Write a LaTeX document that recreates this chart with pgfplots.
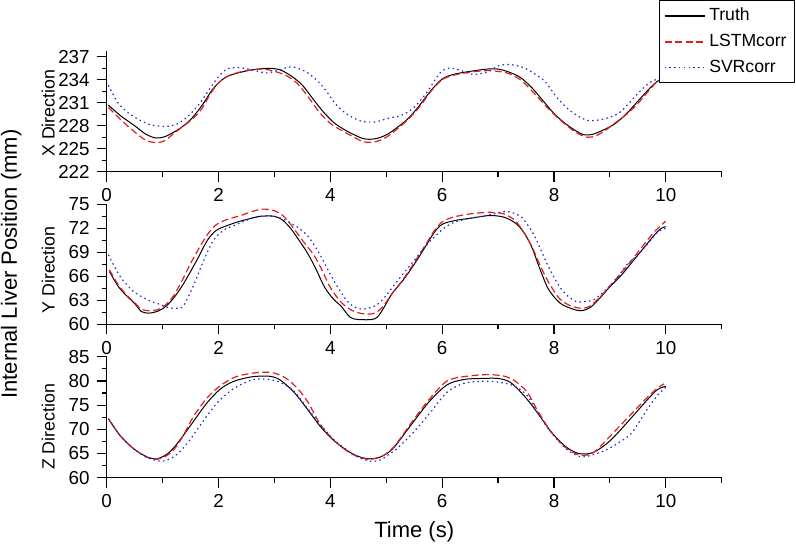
\documentclass[border=0pt]{standalone}
\usepackage{pgfplots}
\pgfplotsset{compat=1.18}
\usepackage{fontspec}
\setmainfont{Liberation Sans}
\definecolor{tru}{RGB}{0,0,0}
\definecolor{lstm}{RGB}{225,30,30}
\definecolor{svr}{RGB}{40,40,215}
\pgfplotsset{
  panel/.style={
    scale only axis, width=307.5pt,
    xmin=0, xmax=11,
    axis x line=bottom, axis y line=left,
    axis line style={-, line width=0.6pt},
    tick align=outside,
    major tick length=5pt, minor tick length=2.5pt,
    every tick/.style={black, line width=0.6pt},
    xtick={0,2,4,6,8,10},
    minor xtick={1,3,5,7,9,11},
    /pgf/number format/assume math mode=true,
    ticklabel style={font=\fontsize{9.4}{10}\selectfont},
    label style={font=\fontsize{8.9}{10}\selectfont},
    every axis plot/.append style={smooth, tension=0.5},
  },
  truth/.style={tru, line width=0.5pt},
  lstmst/.style={lstm, line width=0.6pt, dash pattern=on 3.5pt off 1.75pt},
  svrst/.style={svr, line width=0.6pt, dash pattern=on 0.75pt off 1.65pt},
}
\begin{document}
\begin{tikzpicture}
\path[use as bounding box] (0,0) rectangle (398pt,-272.5pt);
% ---------------- X direction
\begin{axis}[panel, at={(53.35pt,-85.85pt)}, anchor=south west, height=60.5pt,
  ymin=222, ymax=237.8, ytick={222,225,...,237}, minor ytick={223.5,226.5,...,236},
  ylabel={X Direction},
  ylabel style={at={(axis description cs:-0.095,0.483)}, anchor=center},
  legend style={at={(axis description cs:1.1192,1.4149)}, anchor=north east,
    draw=black, line width=0.5pt, font=\fontsize{8.8}{10}\selectfont,
    inner xsep=2pt, inner ysep=1.5pt, row sep=1.2pt},
  legend cell align=left,
  legend image code/.code={\draw[#1, smooth=false, line width=0.75pt] (0pt,0pt) -- (20pt,0pt);},
]
\addplot[truth] coordinates {(0.03,230.7) (0.25,229.3) (0.5,228.0) (0.7,226.9) (0.88,226.4) (1.05,226.6) (1.3,227.6) (1.5,228.8) (1.7,230.6) (1.9,232.8) (2.1,234.2) (2.3,234.8) (2.6,235.3) (2.9,235.5) (3.1,235.3) (3.3,234.5) (3.5,233.3) (3.7,231.4) (3.9,229.6) (4.1,228.2) (4.35,227.1) (4.6,226.3) (4.8,226.3) (5.0,226.8) (5.2,227.8) (5.4,229.0) (5.6,230.7) (5.8,232.6) (6.0,234.1) (6.2,234.7) (6.5,235.1) (6.8,235.4) (7.0,235.4) (7.2,235.0) (7.4,234.3) (7.6,233.0) (7.8,231.3) (8.0,229.6) (8.2,228.3) (8.4,227.3) (8.55,226.8) (8.7,226.9) (8.9,227.5) (9.1,228.3) (9.3,229.6) (9.5,231.2) (9.7,232.8) (9.85,233.8) (10,234.3)};
\addlegendentry{Truth}
\addplot[lstmst] coordinates {(0.03,230.4) (0.25,228.8) (0.5,227.2) (0.7,226.1) (0.9,225.8) (1.05,226.1) (1.2,227.0) (1.4,228.1) (1.55,229.0) (1.7,230.2) (1.85,232.1) (2.0,233.6) (2.2,234.6) (2.5,235.2) (2.8,235.4) (3.0,235.1) (3.2,234.6) (3.4,233.6) (3.6,231.8) (3.8,229.8) (4.0,228.3) (4.2,227.4) (4.4,226.6) (4.6,225.9) (4.8,225.9) (5.0,226.5) (5.2,227.6) (5.4,228.9) (5.6,230.5) (5.8,232.5) (6.0,234.0) (6.2,234.6) (6.5,235.0) (6.8,235.2) (7.0,235.1) (7.2,234.8) (7.4,234.0) (7.6,232.6) (7.8,231.0) (8.0,229.5) (8.2,228.2) (8.4,227.1) (8.6,226.5) (8.75,226.7) (8.9,227.3) (9.1,228.4) (9.3,229.5) (9.5,230.9) (9.7,232.6) (9.85,233.8) (10,234.4)};
\addlegendentry{LSTMcorr}
\addplot[svrst] coordinates {(0.03,233.3) (0.2,231.0) (0.4,229.6) (0.6,228.7) (0.8,228.1) (1.05,227.9) (1.25,228.2) (1.45,229.2) (1.65,230.8) (1.85,232.9) (2.0,234.4) (2.15,235.4) (2.35,235.6) (2.6,235.3) (2.85,234.9) (3.05,235.2) (3.3,235.7) (3.55,235.1) (3.75,234.0) (3.9,232.8) (4.1,230.8) (4.3,229.5) (4.55,228.6) (4.8,228.5) (5.05,229.0) (5.25,229.3) (5.45,230.1) (5.6,231.2) (5.75,232.6) (5.95,234.8) (6.1,235.5) (6.3,235.3) (6.55,234.7) (6.8,235.0) (7.0,235.8) (7.2,236.0) (7.45,235.6) (7.65,234.8) (7.85,233.7) (8.05,231.7) (8.3,229.9) (8.6,228.7) (8.9,228.9) (9.15,229.6) (9.35,231.0) (9.55,232.6) (9.75,233.8) (10,234.4)};
\addlegendentry{SVRcorr}
\end{axis}
% ---------------- Y direction
\begin{axis}[panel, at={(53.35pt,-162.15pt)}, anchor=south west, height=60.4pt,
  ymin=60, ymax=75.1, ytick={60,63,...,75}, minor ytick={61.5,64.5,...,74},
  ylabel={Y Direction},
  ylabel style={at={(axis description cs:-0.095,0.45)}, anchor=center},
]
\addplot[truth] coordinates {(0.05,66.6) (0.2,64.8) (0.35,63.6) (0.5,62.6) (0.62,61.6) (0.75,61.4) (0.9,61.6) (1.05,62.2) (1.2,63.3) (1.35,64.8) (1.5,66.6) (1.65,68.5) (1.8,70.5) (1.95,71.7) (2.1,72.2) (2.3,72.7) (2.5,73.1) (2.75,73.5) (3.0,73.5) (3.15,73.0) (3.3,71.9) (3.45,70.4) (3.6,68.8) (3.75,66.8) (3.9,64.6) (4.05,63.2) (4.2,62.2) (4.35,60.9) (4.5,60.6) (4.8,60.7) (4.95,62.0) (5.1,63.8) (5.3,65.5) (5.5,67.5) (5.7,69.7) (5.85,71.4) (6.0,72.5) (6.25,73.0) (6.55,73.3) (6.85,73.6) (7.1,73.4) (7.3,72.7) (7.45,71.6) (7.6,69.7) (7.75,66.9) (7.9,64.4) (8.1,62.7) (8.3,62.0) (8.48,61.7) (8.65,62.1) (8.85,63.5) (9.0,64.7) (9.2,66.1) (9.4,67.8) (9.6,69.5) (9.8,71.2) (9.92,72.0) (10,72.2)};
\addplot[lstmst] coordinates {(0.05,66.8) (0.2,65.0) (0.35,63.7) (0.5,62.7) (0.62,61.9) (0.75,61.7) (0.9,61.8) (1.05,62.4) (1.2,63.6) (1.35,65.5) (1.5,67.6) (1.65,69.5) (1.8,71.2) (1.95,72.4) (2.15,73.1) (2.4,73.6) (2.6,74.1) (2.8,74.4) (3.0,74.2) (3.15,73.6) (3.3,72.4) (3.5,70.5) (3.7,68.7) (3.85,66.8) (4.0,64.6) (4.2,62.7) (4.4,61.7) (4.6,61.3) (4.8,61.4) (4.95,62.3) (5.1,63.8) (5.3,65.6) (5.5,67.7) (5.7,69.9) (5.85,71.6) (6.0,72.8) (6.2,73.4) (6.5,73.8) (6.85,74.0) (7.1,73.8) (7.3,73.0) (7.45,71.6) (7.6,69.8) (7.75,67.4) (7.9,65.3) (8.1,63.2) (8.3,62.3) (8.5,62.0) (8.65,62.3) (8.85,63.6) (9.0,64.8) (9.2,66.4) (9.4,68.1) (9.6,69.9) (9.8,71.6) (10,72.9)};
\addplot[svrst] coordinates {(0.03,68.7) (0.24,66.0) (0.48,64.1) (0.78,62.9) (0.95,62.5) (1.1,62.1) (1.25,62.0) (1.37,62.3) (1.55,64.8) (1.73,67.9) (1.91,70.5) (2.1,71.8) (2.3,72.4) (2.5,73.0) (2.75,73.5) (3.0,73.5) (3.2,73.0) (3.4,72.2) (3.6,71.0) (3.8,68.9) (3.95,66.9) (4.1,65.0) (4.3,62.9) (4.45,62.1) (4.6,61.9) (4.8,62.3) (4.95,63.2) (5.13,64.8) (5.3,66.3) (5.49,67.9) (5.65,69.3) (5.8,70.5) (6.03,72.0) (6.2,72.7) (6.4,73.1) (6.85,73.7) (7.16,74.1) (7.4,73.5) (7.52,72.5) (7.64,71.2) (7.76,69.4) (7.88,67.5) (8.0,65.9) (8.12,64.5) (8.27,63.4) (8.42,62.8) (8.6,62.9) (8.72,63.1) (8.96,64.5) (9.15,66.0) (9.31,67.5) (9.5,68.7) (9.67,70.0) (9.85,71.5) (10,72.0)};
\end{axis}
% ---------------- Z direction
\begin{axis}[panel, at={(53.35pt,-238.85pt)}, anchor=south west, height=60.5pt,
  ymin=60, ymax=85, ytick={60,65,...,85}, minor ytick={62.5,67.5,...,82.5},
  ylabel={Z Direction},
  ylabel style={at={(axis description cs:-0.095,0.42)}, anchor=center},
  xlabel={Time (s)},
  xlabel style={at={(axis description cs:0.5,-0.446)}, anchor=center, font=\fontsize{11}{13}\selectfont},
]
\addplot[truth] coordinates {(0.03,72.2) (0.24,68.7) (0.48,66.0) (0.72,64.3) (0.9,63.9) (1.07,64.8) (1.2,66.2) (1.31,67.8) (1.55,71.6) (1.79,75.4) (2.03,78.3) (2.27,79.9) (2.57,80.8) (2.8,81.0) (2.95,80.9) (3.1,80.2) (3.34,77.8) (3.58,74.3) (3.82,70.6) (4.06,67.7) (4.3,65.6) (4.5,64.4) (4.7,63.9) (4.9,64.3) (5.07,65.5) (5.19,67.0) (5.49,71.6) (5.79,76.0) (6.09,79.2) (6.39,80.3) (6.7,80.5) (7.0,80.5) (7.22,79.7) (7.46,77.0) (7.7,73.5) (7.94,69.6) (8.17,66.8) (8.35,65.4) (8.5,64.9) (8.72,65.3) (9.01,67.7) (9.37,72.2) (9.67,76.1) (9.85,78.2) (10,78.9)};
\addplot[lstmst] coordinates {(0.03,72.2) (0.24,68.7) (0.48,66.0) (0.72,64.2) (0.88,63.8) (1.05,64.4) (1.2,65.8) (1.35,68.3) (1.55,72.6) (1.79,76.4) (2.03,79.0) (2.3,80.8) (2.55,81.5) (2.8,81.8) (3.0,81.6) (3.2,80.6) (3.4,78.6) (3.6,75.6) (3.82,71.0) (4.06,67.8) (4.3,65.5) (4.5,64.3) (4.7,63.8) (4.9,64.3) (5.07,65.6) (5.2,67.3) (5.49,72.0) (5.79,76.5) (6.09,80.0) (6.4,80.9) (6.8,81.3) (7.1,81.0) (7.3,80.0) (7.52,77.7) (7.7,74.0) (7.94,69.6) (8.17,66.6) (8.35,65.2) (8.5,64.6) (8.72,65.3) (9.07,69.4) (9.37,73.0) (9.67,76.6) (9.85,78.5) (9.97,79.4)};
\addplot[svrst] coordinates {(0.03,72.2) (0.24,68.7) (0.48,66.0) (0.72,64.2) (0.97,63.4) (1.15,64.0) (1.31,65.4) (1.5,68.0) (1.67,70.8) (1.97,75.4) (2.27,78.4) (2.57,80.1) (2.75,80.4) (2.95,80.2) (3.1,79.7) (3.34,78.0) (3.58,74.5) (3.82,71.0) (4.06,67.9) (4.3,65.7) (4.5,64.2) (4.72,63.4) (4.9,63.7) (5.07,65.0) (5.19,66.0) (5.49,69.4) (5.79,73.5) (6.09,77.7) (6.39,79.5) (6.69,79.9) (6.98,79.8) (7.28,79.0) (7.52,77.0) (7.7,73.5) (7.94,69.5) (8.17,66.5) (8.35,64.9) (8.54,64.3) (8.84,65.3) (9.07,66.6) (9.37,69.0) (9.55,72.0) (9.67,74.2) (9.85,77.0) (10,78.7)};
\end{axis}
\node[rotate=90, anchor=north, inner sep=0pt, font=\fontsize{11}{13}\selectfont] at (0.3pt,-132pt) {Internal Liver Position (mm)};
\end{tikzpicture}
\end{document}
